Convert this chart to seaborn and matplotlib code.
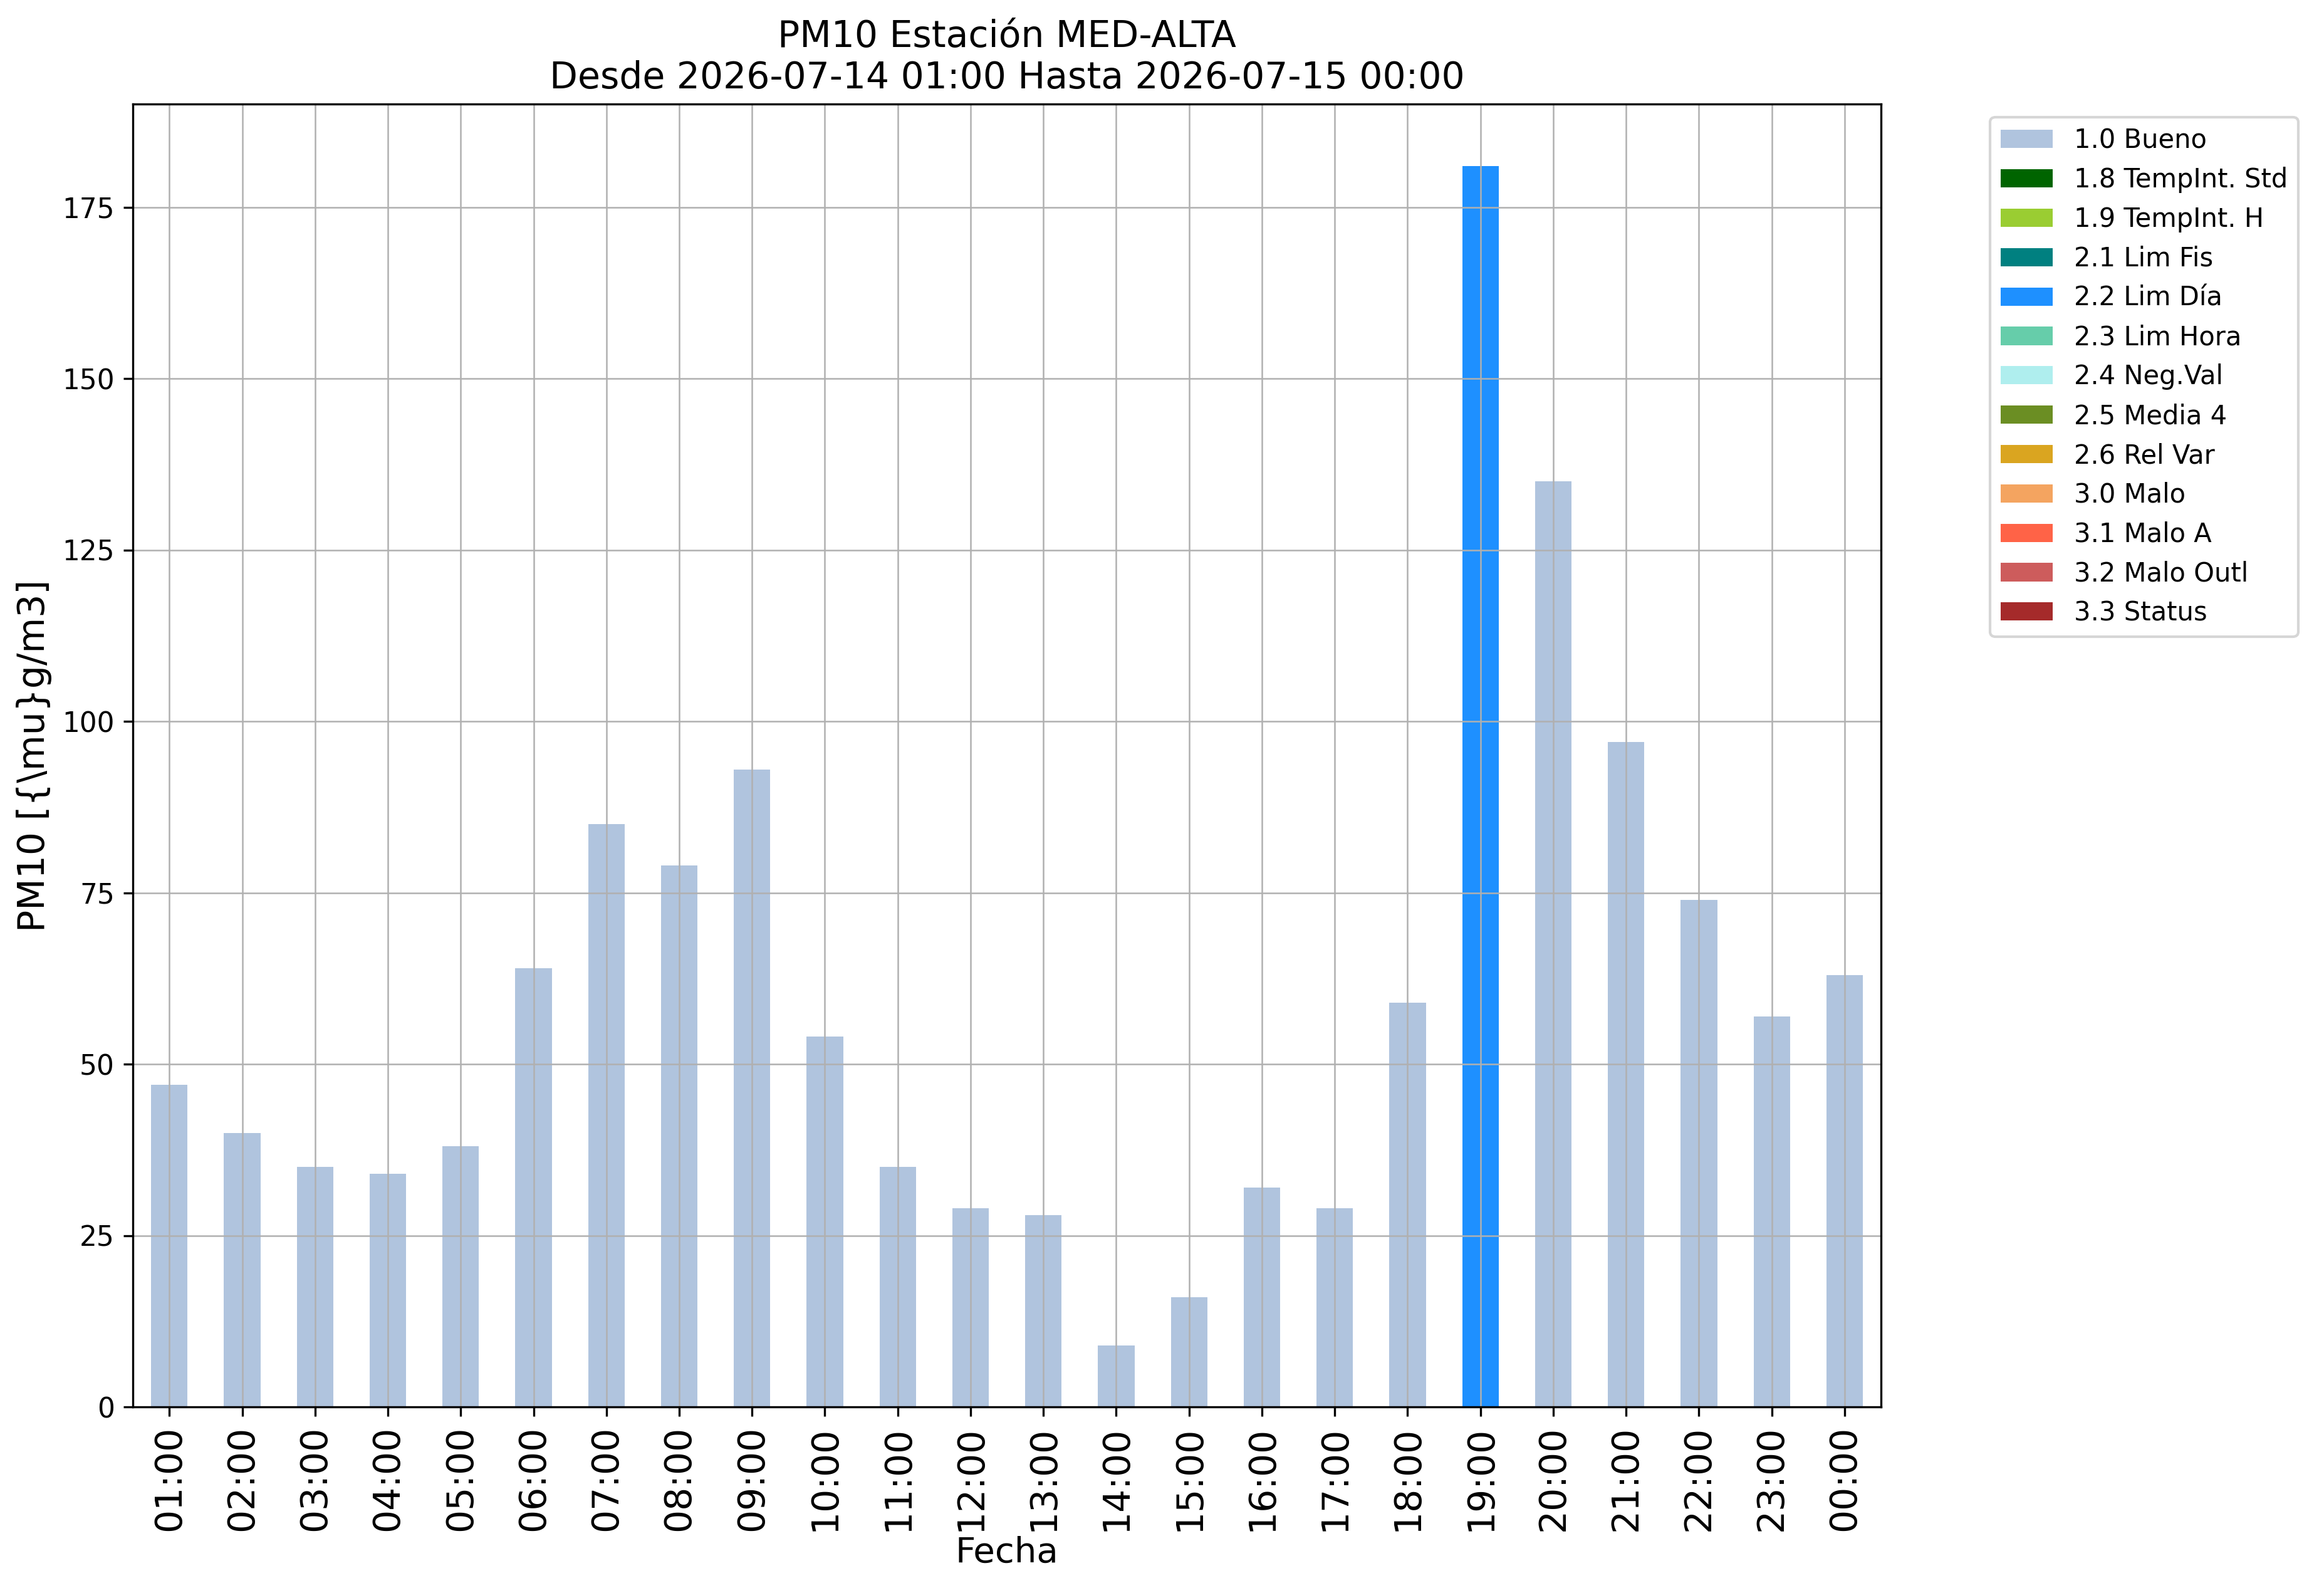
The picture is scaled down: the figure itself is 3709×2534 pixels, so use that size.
import pandas as pd
import matplotlib.pyplot as plt
import seaborn as sns
from matplotlib.patches import Patch

# Datos horarios PM10
horas = ["01:00", "02:00", "03:00", "04:00", "05:00", "06:00", "07:00", "08:00",
         "09:00", "10:00", "11:00", "12:00", "13:00", "14:00", "15:00", "16:00",
         "17:00", "18:00", "19:00", "20:00", "21:00", "22:00", "23:00", "00:00"]
valores = [47, 40, 35, 34, 38, 64, 85, 79, 93, 54, 35, 29, 28, 9, 16, 32,
           29, 59, 181, 135, 97, 74, 57, 63]
flags = ["1.0 Bueno"] * 18 + ["2.2 Lim Día"] + ["1.0 Bueno"] * 5

etiquetas = ["1.0 Bueno", "1.8 TempInt. Std", "1.9 TempInt. H", "2.1 Lim Fis",
             "2.2 Lim Día", "2.3 Lim Hora", "2.4 Neg.Val", "2.5 Media 4",
             "2.6 Rel Var", "3.0 Malo", "3.1 Malo A", "3.2 Malo Outl", "3.3 Status"]
colores = ["lightsteelblue", "darkgreen", "yellowgreen", "teal", "dodgerblue",
           "mediumaquamarine", "paleturquoise", "olivedrab", "goldenrod",
           "sandybrown", "tomato", "indianred", "brown"]
paleta = dict(zip(etiquetas, colores))

df = pd.DataFrame({"hora": horas, "valor": valores, "flag": flags})

fig = plt.figure(figsize=(3709 / 300, 2534 / 300), dpi=300)
ax = fig.add_axes([0.0572, 0.114, 0.7522, 0.8205])

sns.barplot(data=df, x="hora", y="valor", hue="flag", order=horas,
            hue_order=etiquetas, palette=paleta, dodge=False, width=0.5,
            saturation=1, errorbar=None, linewidth=0, legend=False, ax=ax)

ax.set_axisbelow("line")
ax.grid(True, color="#b0b0b0", linewidth=0.6)
ax.set_ylim(0, max(valores) * 1.05)
ax.set_xlim(-0.5, len(horas) - 0.5)

ax.set_title("PM10 Estación MED-ALTA\nDesde 2026-07-14 01:00 Hasta 2026-07-15 00:00",
             fontsize=14)
ax.set_xlabel("Fecha", fontsize=13.5, labelpad=2)
ax.set_ylabel(r"PM10 [{\mu}g/m3]", fontsize=14)
ax.tick_params(axis="x", labelsize=14, labelrotation=90)
ax.tick_params(axis="y", labelsize=10.5)

handles = [Patch(facecolor=c, label=l) for l, c in zip(etiquetas, colores)]
ax.legend(handles=handles, bbox_to_anchor=(1.055, 1), loc="upper left",
          fontsize=10)

fig.savefig("out.png", dpi=300)
plt.close()
